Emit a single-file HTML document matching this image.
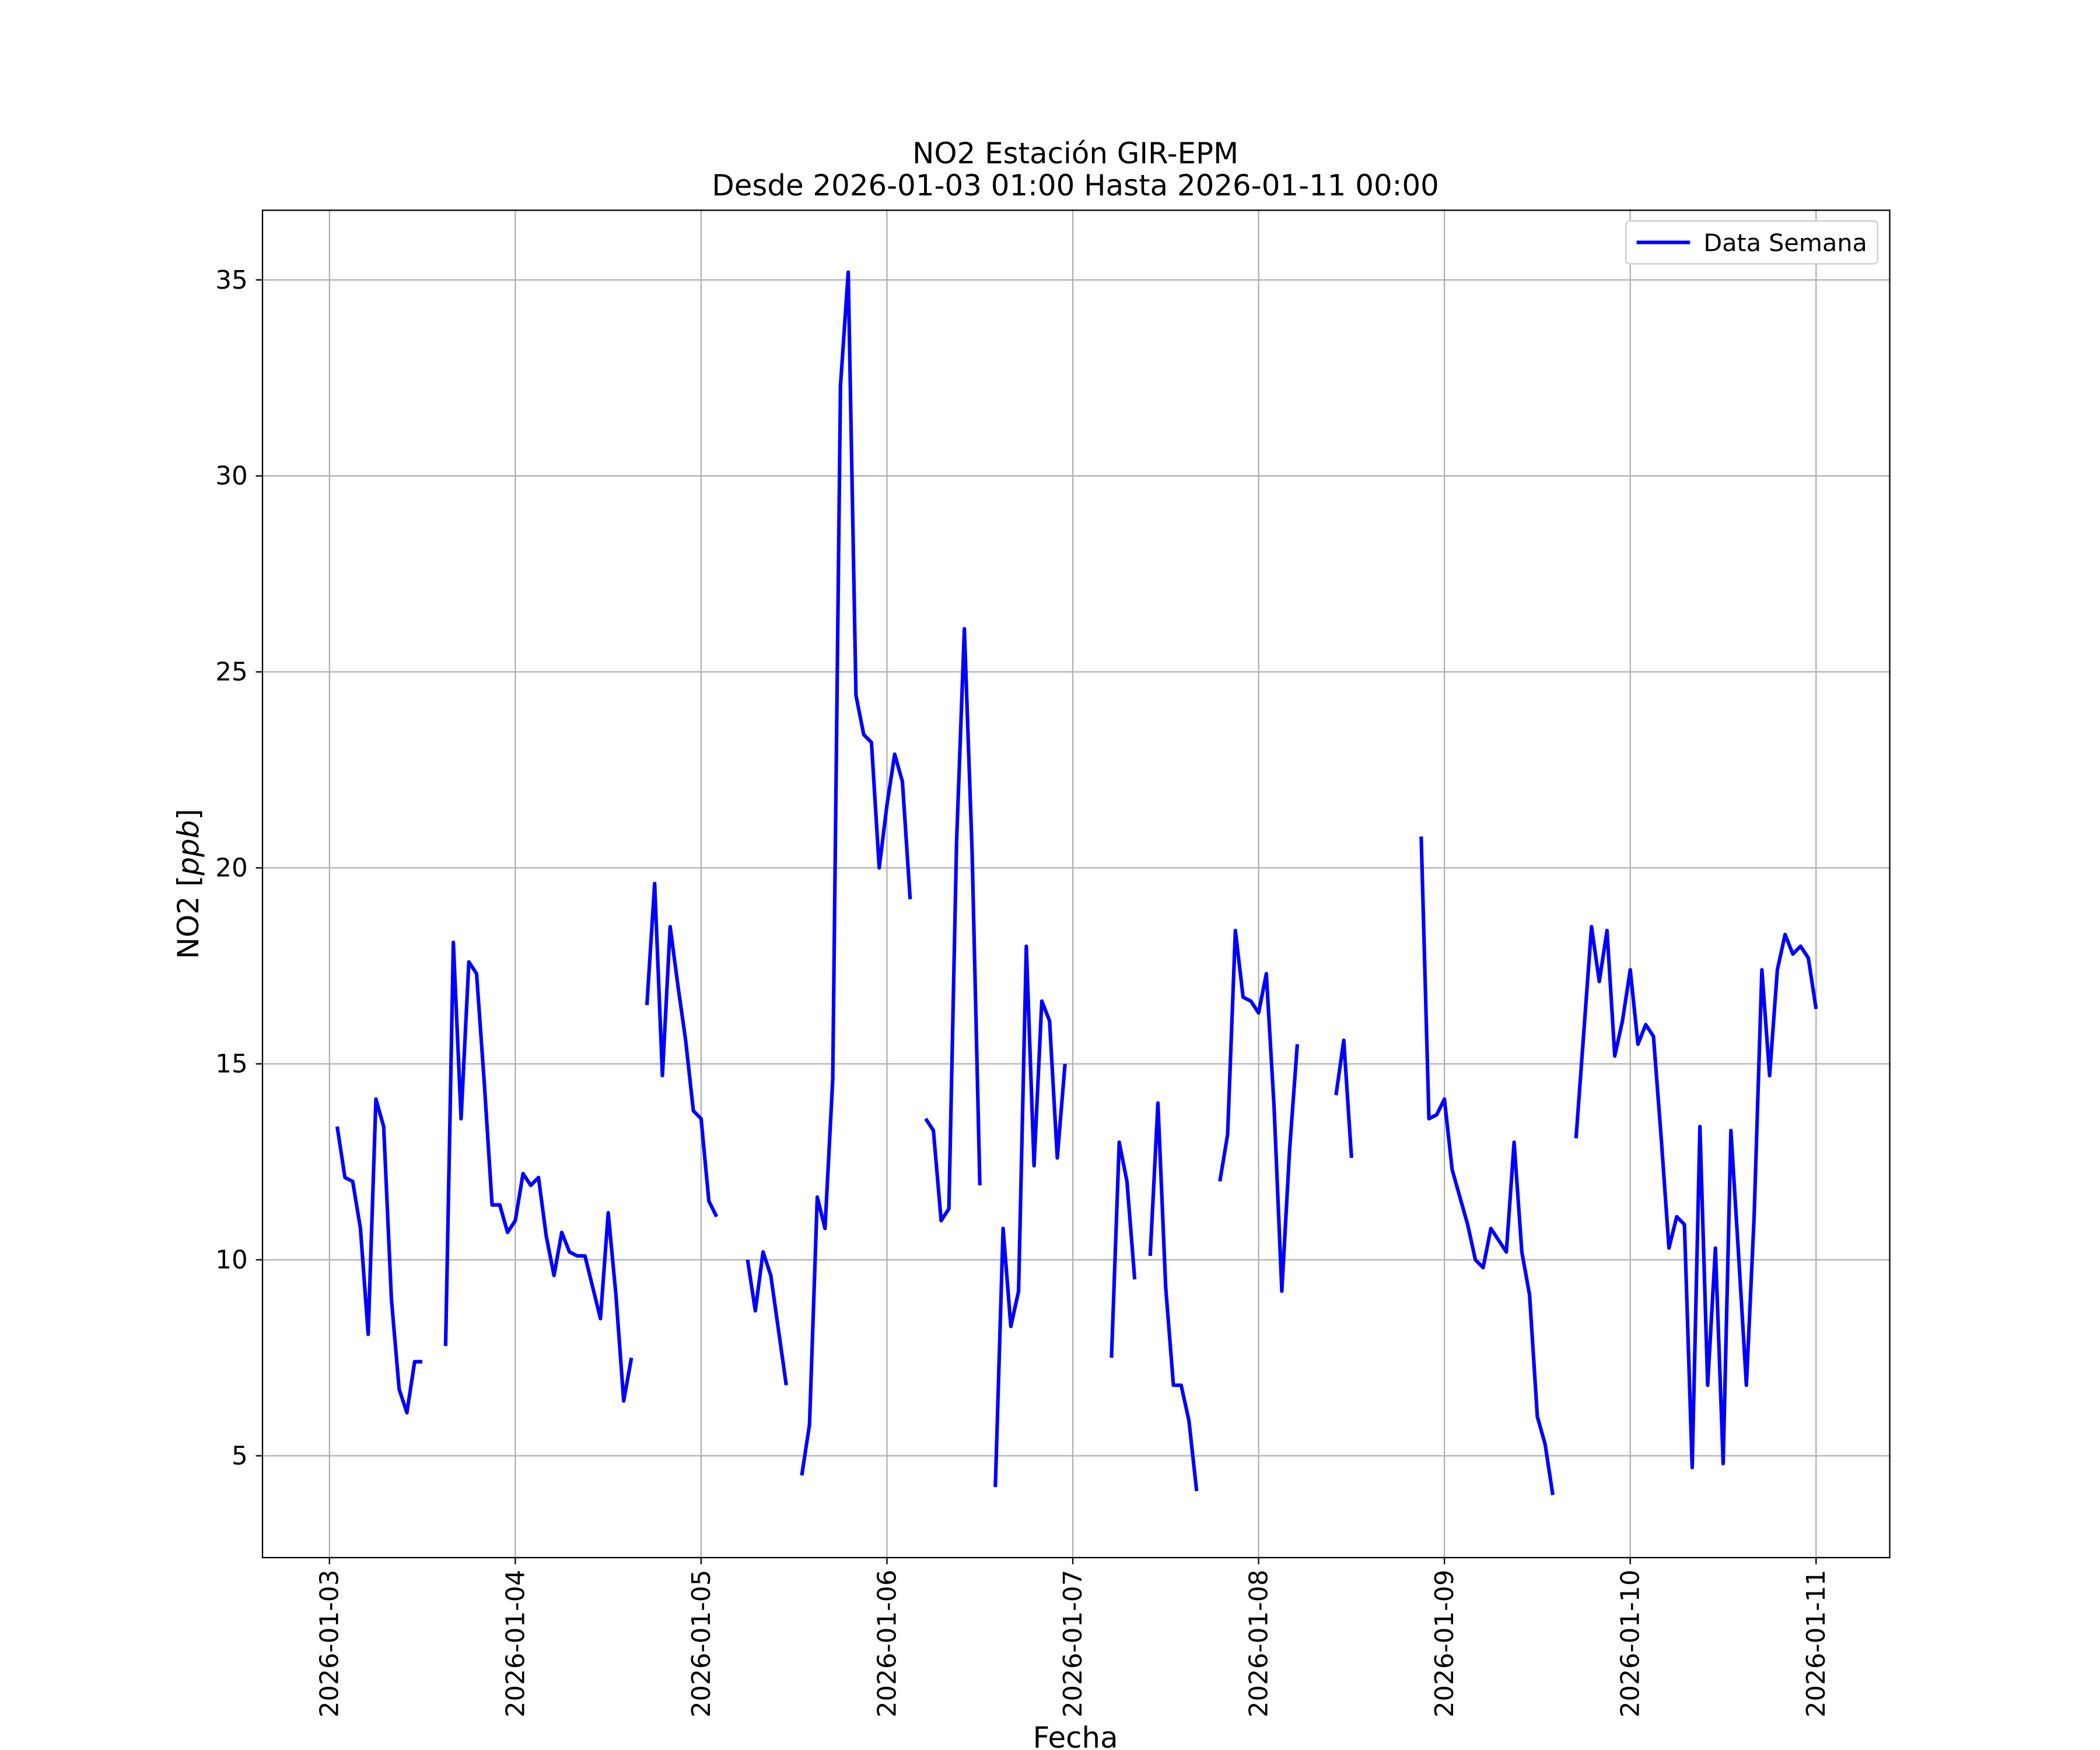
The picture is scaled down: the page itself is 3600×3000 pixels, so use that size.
<!DOCTYPE html>
<html><head><meta charset="utf-8"><style>
html,body{margin:0;padding:0;background:#fff}
svg{display:block}
text{font-family:"DejaVu Sans","Liberation Sans",sans-serif;fill:#000}
</style></head><body>
<svg id="chart" width="3600" height="3000" viewBox="0 0 1568 1306.67" xmlns="http://www.w3.org/2000/svg">
<rect width="1568" height="1306.67" fill="#fff"/>
<g id="grid"></g>
<g id="series"></g>
<rect x="196" y="157" width="1215" height="1006" fill="none" stroke="#000" stroke-width="1"/>
<g id="ticks"></g>
<text x="803" y="122" font-size="21.7" text-anchor="middle">NO2 Estación GIR-EPM</text>
<text x="803" y="146" font-size="21.7" text-anchor="middle">Desde 2026-01-03 01:00 Hasta 2026-01-11 00:00</text>
<text x="803" y="1305" font-size="21.7" text-anchor="middle">Fecha</text>
<text transform="translate(148,660) rotate(-90)" font-size="21.7" text-anchor="middle">NO2 [<tspan font-style="italic">ppb</tspan>]</text>
<g>
<rect x="1214" y="165" width="188" height="32" rx="3" fill="#fff" stroke="#ccc" stroke-width="1"/>
<line x1="1222" y1="181" x2="1262" y2="181" stroke="#0000ff" stroke-width="2.7"/>
<text x="1272" y="187.5" font-size="18">Data Semana</text>
</g>
</svg>
<script>
const hourStart = 1;
const no2Values = [13.4,12.1,12.0,10.8,8.1,14.1,13.4,9.0,6.7,6.1,7.4,7.4,null,null,
7.8,18.1,13.6,17.6,17.3,14.5,11.4,11.4,10.7,11.0,12.2,11.9,12.1,10.6,9.6,10.7,10.2,10.1,10.1,9.3,8.5,11.2,9.1,6.4,7.5,null,
16.5,19.6,14.7,18.5,17.0,15.6,13.8,13.6,11.5,11.1,null,null,null,
10.0,8.7,10.2,9.6,8.2,6.8,null,
4.5,5.8,11.6,10.8,14.6,32.3,35.2,24.4,23.4,23.2,20.0,21.6,22.9,22.2,19.2,null,
13.6,13.3,11.0,11.3,20.7,26.1,20.4,11.9,null,
4.2,10.8,8.3,9.2,18.0,12.4,16.6,16.1,12.6,15.0,null,null,null,null,null,
7.5,13.0,12.0,9.5,null,
10.1,14.0,9.3,6.8,6.8,5.9,4.1,null,null,
12.0,13.2,18.4,16.7,16.6,16.3,17.3,13.9,9.2,12.8,15.5,null,null,null,null,
14.2,15.6,12.6,null,null,null,null,null,null,null,null,
20.8,13.6,13.7,14.1,12.3,11.6,10.9,10.0,9.8,10.8,10.5,10.2,13.0,10.2,9.1,6.0,5.3,4.0,null,null,
13.1,15.8,18.5,17.1,18.4,15.2,16.1,17.4,15.5,16.0,15.7,13.1,10.3,11.1,10.9,4.7,13.4,6.8,10.3,4.8,13.3,10.1,6.8,11.1,17.4,14.7,17.4,18.3,17.8,18.0,17.7,16.4];
const xTickLabels = ["2026-01-03","2026-01-04","2026-01-05","2026-01-06","2026-01-07","2026-01-08","2026-01-09","2026-01-10","2026-01-11"];
const yTickValues = [5,10,15,20,25,30,35];

const NS="http://www.w3.org/2000/svg";
function xScale(h){return 246 + h*(1110/192);}
function yScale(v){return 1087 - (v-5)*(878/30);}
function mk(tag,attrs,parent){const e=document.createElementNS(NS,tag);for(const k in attrs)e.setAttribute(k,attrs[k]);parent.appendChild(e);return e;}
const grid=document.getElementById('grid'), ticks=document.getElementById('ticks'), series=document.getElementById('series');
xTickLabels.forEach((lab,i)=>{
  const x=xScale(i*24);
  const gl=mk('line',{x1:x,x2:x,y1:157,y2:1163,stroke:'#b0b0b0','stroke-width':1},grid);
  
  
  const tk=mk('line',{x1:x,x2:x,y1:1163,y2:1168,stroke:'#000','stroke-width':1},ticks);
  
  
  const t=mk('text',{transform:`translate(${x+6.5},1172) rotate(-90)`,'font-size':19,'text-anchor':'end'},ticks);
  t.textContent=lab;
  
  
});
yTickValues.forEach(v=>{
  const y=yScale(v);
  const gl=mk('line',{x1:196,x2:1411,y1:y,y2:y,stroke:'#b0b0b0','stroke-width':1},grid);
  
  
  const tk=mk('line',{x1:191,x2:196,y1:y,y2:y,stroke:'#000','stroke-width':1},ticks);
  
  
  const t=mk('text',{x:185,y:y+6.5,'font-size':19,'text-anchor':'end'},ticks);
  t.textContent=String(v);
  
  
});
let d='', pen=false;
no2Values.forEach((v,i)=>{
  if(v===null){pen=false;return;}
  const x=xScale(hourStart+i).toFixed(2), y=yScale(v).toFixed(2);
  d+=(pen?'L':'M')+x+' '+y+' '; pen=true;
});
const p=mk('path',{d:d,fill:'none',stroke:'#0000ff','stroke-width':2.7,'stroke-linejoin':'round'},series);


</script>
</body></html>
